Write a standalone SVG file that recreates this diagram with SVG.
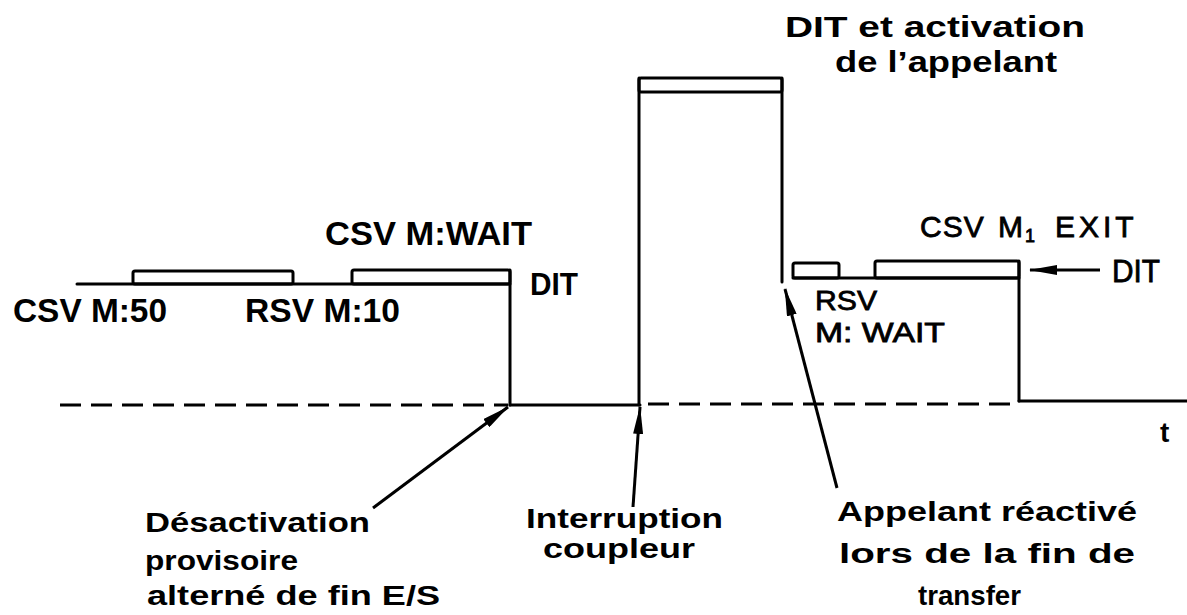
<svg xmlns="http://www.w3.org/2000/svg" width="1187" height="615" viewBox="0 0 1187 615">
<style>
.s{fill:none;stroke:#000;stroke-width:3;stroke-linejoin:round;stroke-linecap:round}
.d{fill:none;stroke:#000;stroke-width:3;stroke-dasharray:21 10}
.a{fill:none;stroke:#000;stroke-width:3}
.b{font-family:"Liberation Sans",Arial,sans-serif;font-weight:bold;fill:#000}
.r{font-family:"Liberation Sans",Arial,sans-serif;font-weight:normal;fill:#000;stroke:#000;stroke-width:0.8}
</style>
<defs>
<marker id="ah" viewBox="0 0 28 10" refX="27" refY="5" markerWidth="28" markerHeight="10" markerUnits="userSpaceOnUse" orient="auto">
<path d="M0,0 L28,5 L0,10 z" fill="#000"/>
</marker>
</defs>
<rect width="1187" height="615" fill="#fff"/>

<g id="axis">
<line class="d" x1="60" y1="405" x2="508" y2="405"/>
<line class="s" x1="510" y1="405" x2="640" y2="405"/>
<line class="d" x1="648" y1="404" x2="1018" y2="404"/>
<line class="s" x1="1019" y1="401" x2="1187" y2="401"/>
</g>

<g id="signal-left">
<line class="s" x1="77" y1="284" x2="510" y2="284"/>
<rect class="s" x="133" y="271" width="160" height="13" rx="2"/>
<rect class="s" x="352" y="270" width="158" height="14" rx="2"/>
<line class="s" x1="510" y1="270" x2="510" y2="405"/>
</g>

<g id="signal-middle">
<rect class="s" x="639" y="78" width="143" height="14" rx="2"/>
<line class="s" x1="639" y1="78" x2="639" y2="405"/>
<line class="s" x1="782" y1="78" x2="782" y2="282"/>
</g>

<g id="signal-right">
<line class="s" x1="793" y1="278" x2="1019" y2="278"/>
<rect class="s" x="793" y="263" width="46" height="15" rx="2"/>
<rect class="s" x="875" y="261" width="144" height="17" rx="2"/>
<line class="s" x1="1019" y1="261" x2="1019" y2="401"/>
</g>

<g id="labels-top">
<text class="b" x="785" y="37" font-size="30" textLength="300" lengthAdjust="spacingAndGlyphs">DIT et activation</text>
<text class="b" x="835" y="72" font-size="30" textLength="222" lengthAdjust="spacingAndGlyphs">de l’appelant</text>
</g>

<g id="labels-left">
<text class="b" x="325" y="245" font-size="34" textLength="207" lengthAdjust="spacingAndGlyphs">CSV M:WAIT</text>
<text class="b" x="530" y="295" font-size="32" textLength="48" lengthAdjust="spacingAndGlyphs">DIT</text>
<text class="b" x="13" y="322" font-size="34" textLength="154" lengthAdjust="spacingAndGlyphs">CSV M:50</text>
<text class="b" x="245" y="322" font-size="34" textLength="155" lengthAdjust="spacingAndGlyphs">RSV M:10</text>
</g>

<g id="labels-right">
<text class="r" y="237" font-size="30"><tspan x="920" letter-spacing="1">CSV</tspan> <tspan x="998">M</tspan><tspan x="1025" font-size="18" dy="5">1</tspan><tspan x="1055" dy="-5" letter-spacing="4">EXIT</tspan></text>
<text class="r" x="1112" y="282" font-size="32" textLength="48" lengthAdjust="spacingAndGlyphs" stroke-width="0.6">DIT</text>
<text class="r" x="815" y="310" font-size="28" textLength="62" lengthAdjust="spacingAndGlyphs">RSV</text>
<text class="r" x="815" y="342" font-size="28" textLength="130" lengthAdjust="spacingAndGlyphs">M: WAIT</text>
<text class="b" x="1160" y="442" font-size="28">t</text>
</g>

<g id="labels-bottom">
<text class="b" x="145" y="532" font-size="28" textLength="225" lengthAdjust="spacingAndGlyphs">Désactivation</text>
<text class="b" x="145" y="570" font-size="28" textLength="153" lengthAdjust="spacingAndGlyphs">provisoire</text>
<text class="b" x="147" y="605" font-size="28" textLength="293" lengthAdjust="spacingAndGlyphs">alterné de fin E/S</text>
<text class="b" x="526" y="528" font-size="28" textLength="197" lengthAdjust="spacingAndGlyphs">Interruption</text>
<text class="b" x="543" y="558" font-size="28" textLength="152" lengthAdjust="spacingAndGlyphs">coupleur</text>
<text class="b" x="837" y="521" font-size="28" textLength="300" lengthAdjust="spacingAndGlyphs">Appelant réactivé</text>
<text class="b" x="839" y="563" font-size="28" textLength="296" lengthAdjust="spacingAndGlyphs">lors de la fin de</text>
<text class="b" x="918" y="605" font-size="28" textLength="103" lengthAdjust="spacingAndGlyphs">transfer</text>
</g>

<g id="connectors">
<line class="a" x1="373" y1="508" x2="508" y2="407" marker-end="url(#ah)"/>
<line class="a" x1="633" y1="507" x2="640" y2="407" marker-end="url(#ah)"/>
<line class="a" x1="837" y1="488" x2="785" y2="289" stroke-width="2.5" marker-end="url(#ah)"/>
<line class="a" x1="1100" y1="270" x2="1030" y2="270" marker-end="url(#ah)"/>
</g>
</svg>
